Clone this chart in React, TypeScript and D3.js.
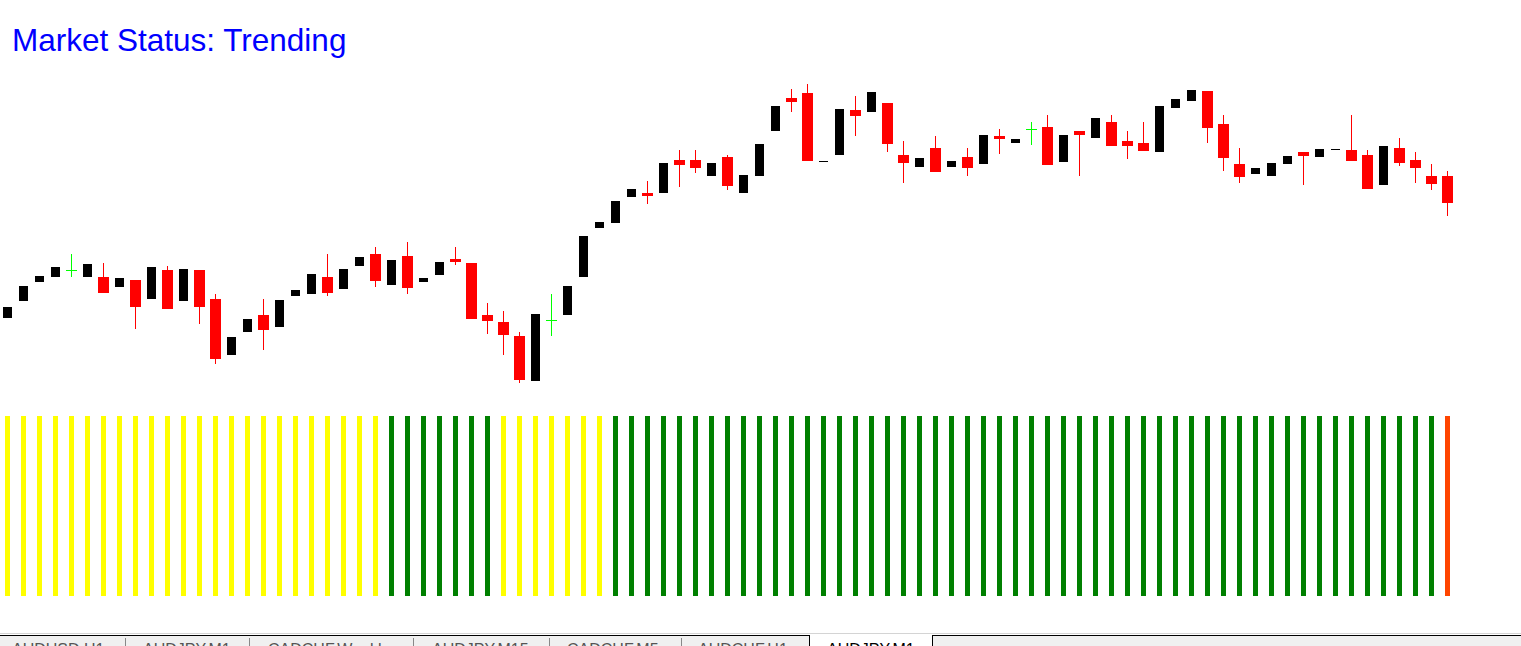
import React from "react";
import * as d3 from "d3";

const W = 1521;
const H = 646;

const title = "Market Status: Trending";

const opens = [
  80.182, 80.199, 80.218, 80.223, 80.230, 80.223, 80.223, 80.213, 80.220, 80.201,
  80.230, 80.199, 80.230, 80.201, 80.145, 80.168, 80.185, 80.173, 80.204, 80.206,
  80.223, 80.211, 80.234, 80.246, 80.215, 80.244, 80.218, 80.225, 80.241, 80.237,
  80.185, 80.178, 80.164, 80.119, 80.180, 80.185, 80.223, 80.272, 80.277, 80.303,
  80.307, 80.307, 80.340, 80.340, 80.324, 80.343, 80.307, 80.324, 80.369, 80.402,
  80.407, 80.338, 80.345, 80.390, 80.388, 80.397, 80.345, 80.333, 80.352, 80.333,
  80.343, 80.336, 80.364, 80.357, 80.371, 80.373, 80.338, 80.369, 80.362, 80.378,
  80.359, 80.357, 80.348, 80.392, 80.399, 80.409, 80.376, 80.336, 80.326, 80.324,
  80.336, 80.348, 80.343, 80.350, 80.350, 80.345, 80.315, 80.352, 80.340, 80.324,
  80.324,
];
const highs = [
  80.193, 80.214, 80.224, 80.233, 80.246, 80.236, 80.237, 80.222, 80.220, 80.233,
  80.234, 80.231, 80.230, 80.206, 80.163, 80.181, 80.201, 80.200, 80.210, 80.226,
  80.246, 80.231, 80.243, 80.253, 80.240, 80.258, 80.222, 80.238, 80.253, 80.237,
  80.197, 80.189, 80.168, 80.186, 80.206, 80.214, 80.264, 80.278, 80.299, 80.311,
  80.319, 80.337, 80.350, 80.350, 80.337, 80.345, 80.325, 80.356, 80.394, 80.411,
  80.416, 80.339, 80.391, 80.404, 80.408, 80.397, 80.359, 80.342, 80.364, 80.339,
  80.352, 80.365, 80.371, 80.361, 80.378, 80.385, 80.365, 80.369, 80.382, 80.385,
  80.369, 80.378, 80.394, 80.401, 80.410, 80.409, 80.385, 80.352, 80.332, 80.337,
  80.344, 80.348, 80.351, 80.351, 80.385, 80.350, 80.354, 80.362, 80.348, 80.336,
  80.329,
];
const lows = [
  80.182, 80.199, 80.218, 80.223, 80.224, 80.223, 80.207, 80.213, 80.172, 80.201,
  80.191, 80.199, 80.177, 80.137, 80.145, 80.168, 80.151, 80.173, 80.204, 80.206,
  80.205, 80.211, 80.234, 80.214, 80.215, 80.207, 80.218, 80.225, 80.236, 80.181,
  80.167, 80.146, 80.118, 80.119, 80.165, 80.185, 80.223, 80.272, 80.277, 80.303,
  80.297, 80.307, 80.314, 80.328, 80.324, 80.311, 80.307, 80.324, 80.369, 80.389,
  80.339, 80.338, 80.345, 80.365, 80.388, 80.349, 80.318, 80.333, 80.328, 80.333,
  80.325, 80.336, 80.347, 80.357, 80.356, 80.335, 80.338, 80.325, 80.362, 80.354,
  80.342, 80.349, 80.348, 80.392, 80.399, 80.358, 80.330, 80.318, 80.326, 80.324,
  80.336, 80.316, 80.343, 80.350, 80.339, 80.311, 80.315, 80.335, 80.318, 80.311,
  80.285,
];
const closes = [
  80.193, 80.214, 80.224, 80.233, 80.230, 80.236, 80.207, 80.222, 80.193, 80.233,
  80.191, 80.231, 80.193, 80.141, 80.163, 80.181, 80.170, 80.200, 80.210, 80.226,
  80.207, 80.231, 80.243, 80.219, 80.240, 80.212, 80.222, 80.238, 80.238, 80.181,
  80.179, 80.165, 80.120, 80.186, 80.180, 80.214, 80.264, 80.278, 80.299, 80.311,
  80.304, 80.337, 80.335, 80.332, 80.337, 80.314, 80.325, 80.356, 80.394, 80.398,
  80.339, 80.339, 80.391, 80.384, 80.408, 80.356, 80.337, 80.342, 80.328, 80.339,
  80.332, 80.365, 80.361, 80.361, 80.371, 80.335, 80.365, 80.365, 80.382, 80.354,
  80.354, 80.349, 80.394, 80.401, 80.410, 80.372, 80.342, 80.323, 80.332, 80.337,
  80.344, 80.344, 80.351, 80.351, 80.339, 80.311, 80.354, 80.337, 80.332, 80.316,
  80.297,
];

// market status per bar: 0 = ranging, 1 = trending, 2 = reversal
const statusValues = [
  0, 0, 0, 0, 0, 0, 0, 0, 0, 0, 0, 0, 0, 0, 0, 0, 0, 0, 0, 0, 0, 0, 0, 0,
  1, 1, 1, 1, 1, 1, 1,
  0, 0, 0, 0, 0, 0, 0,
  1, 1, 1, 1, 1, 1, 1, 1, 1, 1, 1, 1, 1, 1, 1, 1, 1, 1, 1, 1, 1, 1, 1, 1, 1, 1,
  1, 1, 1, 1, 1, 1, 1, 1, 1, 1, 1, 1, 1, 1, 1, 1, 1, 1, 1, 1, 1, 1, 1, 1, 1, 1,
  2,
];
const statusColors = ["#ffff00", "#008000", "#ff4500"];

const tabLabels = [
  "AUDUSD,H1",
  "AUDJPY,M1",
  "CADCHF,Weekly",
  "AUDJPY,M15",
  "CADCHF,M5",
  "AUDCHF,H1",
  "AUDJPY,M1",
];
const tabEdges = [0, 125, 249, 413, 549, 681, 809, 932];
const tabTextX = [12, 143, 268, 432, 567, 698, 827];
const activeTab = 6;

export default function App() {
  const n = opens.length;
  const x = d3.scaleLinear().domain([0, n - 1]).range([7.5, 1447.5]);
  const y = d3.scaleLinear().domain([80.0, 80.5]).range([500, 0]);
  const barY = d3.scaleLinear().domain([0, 1]).range([596, 416]);

  const candles = d3.range(n).map((i) => {
    const o = opens[i], c = closes[i], h = highs[i], l = lows[i];
    const cx = x(i);
    const yo = Math.round(y(o)), yc = Math.round(y(c));
    const yh = Math.round(y(h)), yl = Math.round(y(l));
    let color = "#000000";
    let bw = 9;
    if (c < o) { color = "#ff0000"; bw = 11; }
    else if (c === o) { color = "#00ff00"; bw = 11; }
    const top = Math.min(yo, yc);
    const bh = Math.max(1, Math.abs(yo - yc));
    return (
      <g key={i}>
        {yh < top && (
          <rect x={cx - 0.5} y={yh} width={1} height={top - yh} fill={color} />
        )}
        {yl > top + bh && (
          <rect x={cx - 0.5} y={top + bh} width={1} height={yl - top - bh + 1} fill={color} />
        )}
        {c === o ? (
          <rect x={cx - bw / 2} y={top} width={bw} height={1} fill={color} />
        ) : (
          <rect x={cx - bw / 2} y={top} width={bw} height={bh} fill={color} />
        )}
      </g>
    );
  });

  const bars = statusValues.map((s, i) => (
    <rect
      key={i}
      x={x(i) - 2.5}
      y={barY(1)}
      width={5}
      height={barY(0) - barY(1)}
      fill={statusColors[s]}
    />
  ));

  const tabs = tabLabels.map((t, i) => {
    const x0 = tabEdges[i], x1 = tabEdges[i + 1];
    const active = i === activeTab;
    return (
      <g key={i}>
        {active && <rect x={x0} y={635} width={x1 - x0} height={11} fill="#ffffff" />}
        <text
          x={tabTextX[i]}
          y={655}
          fontFamily="Liberation Sans, Arial, sans-serif"
          fontSize={16}
          fill={active ? "#000000" : "#555555"}
        >
          {t}
        </text>
        {i > 0 && !active && i !== activeTab + 1 && (
          <line x1={x0 + 0.5} x2={x0 + 0.5} y1={638} y2={646} stroke="#888888" />
        )}
      </g>
    );
  });

  return (
    <svg
      width={W}
      height={H}
      style={{ position: "absolute", left: 0, top: 0, background: "#ffffff" }}
    >
      <rect x={0} y={0} width={W} height={H} fill="#ffffff" />
      <text
        x={12}
        y={51}
        fontFamily="Liberation Sans, Arial, sans-serif"
        fontSize={31.5}
        fill="#0000ff"
      >
        {title}
      </text>
      {candles}
      {bars}
      <rect x={0} y={635} width={W} height={11} fill="#f0f0f0" />
      {tabs}
      <line x1={0} x2={W} y1={633.5} y2={633.5} stroke="#d4d4d4" />
      <line x1={0} x2={809} y1={635.5} y2={635.5} stroke="#000000" />
      <line x1={932} x2={W} y1={635.5} y2={635.5} stroke="#000000" />
      <line x1={809.5} x2={809.5} y1={635} y2={646} stroke="#000000" />
      <line x1={932.5} x2={932.5} y1={635} y2={646} stroke="#000000" />
    </svg>
  );
}
